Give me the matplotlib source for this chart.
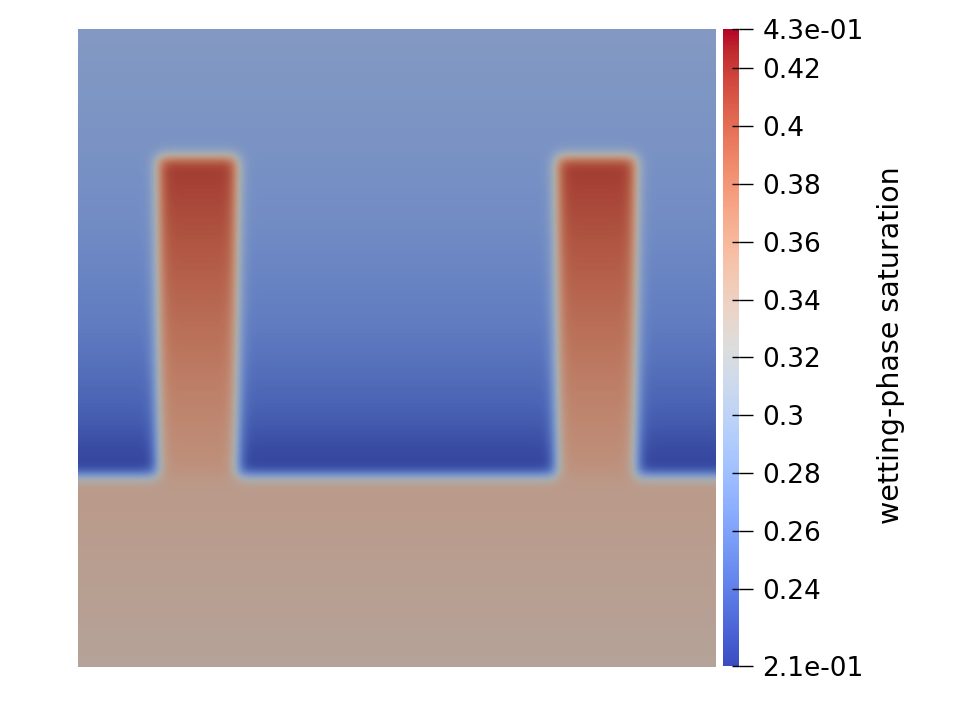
import numpy as np
import matplotlib
matplotlib.use('Agg')
import matplotlib.pyplot as plt
from matplotlib.colors import ListedColormap, Normalize
from matplotlib.cm import ScalarMappable

# Rango de la barra de colores
s_min = 0.2135
s_max = 0.4334

# Malla de celdas (40 x 40)
n_cols = 40
n_rows = 40

# Saturación por fila: zona superior (filas 0..27)
sat_background = [0.287, 0.286, 0.285, 0.284, 0.283, 0.282, 0.281, 0.280,
                  0.278, 0.277, 0.275, 0.274, 0.272, 0.270, 0.268, 0.266,
                  0.264, 0.262, 0.259, 0.256, 0.253, 0.249, 0.245, 0.241,
                  0.236, 0.230, 0.224, 0.218]

# Saturación en los dedos (filas 8..27)
finger_top_row = 8
sat_finger = [0.414, 0.411, 0.408, 0.405, 0.402, 0.399, 0.396, 0.393,
              0.390, 0.387, 0.384, 0.381, 0.378, 0.375, 0.372, 0.369,
              0.366, 0.363, 0.360, 0.357]

# Zona inferior (filas 28..39)
sat_bottom = [0.348, 0.347, 0.346, 0.345, 0.344, 0.343, 0.342, 0.341,
              0.340, 0.339, 0.338, 0.337]

# Columnas ocupadas por cada dedo
finger_cols = [(5, 10), (30, 35)]

tick_values = [s_min, 0.24, 0.26, 0.28, 0.3, 0.32, 0.34, 0.36, 0.38, 0.4, 0.42, s_max]
tick_labels = ["2.1e-01", "0.24", "0.26", "0.28", "0.3", "0.32", "0.34",
               "0.36", "0.38", "0.4", "0.42", "4.3e-01"]

# Construir el campo
field = np.zeros((n_rows, n_cols))
nb = len(sat_background)
field[:nb, :] = np.array(sat_background)[:, None]
field[nb:, :] = np.array(sat_bottom)[:, None]
for c0, c1 in finger_cols:
    field[finger_top_row:nb, c0:c1] = np.array(sat_finger)[:, None]

# Colormap con sombreado (como la vista 3D)
base = plt.get_cmap('coolwarm')(np.linspace(0, 1, 256))
shaded = base.copy()
shaded[:, :3] = base[:, :3] * 0.77
shaded_cmap = ListedColormap(shaded)
norm = Normalize(vmin=s_min, vmax=s_max)

plt.rcParams['font.family'] = ['DejaVu Sans']

fig = plt.figure(figsize=(9.78, 7.08), dpi=100)
ax = fig.add_axes([78 / 978, 41 / 708, 638 / 978, 638 / 708])
ax.imshow(field, cmap=shaded_cmap, norm=norm, interpolation='gaussian',
          interpolation_stage='data', aspect='auto')
ax.axis('off')

cax = fig.add_axes([723 / 978, 42 / 708, 16 / 978, 637 / 708])
sm = ScalarMappable(norm=norm, cmap='coolwarm')
cb = fig.colorbar(sm, cax=cax)
cb.outline.set_visible(False)
cb.set_ticks(tick_values)
cb.set_ticklabels(tick_labels)
cax.tick_params(axis='y', direction='out', length=10, width=1, pad=7,
                labelsize=19, colors='black')
cax.yaxis.set_minor_locator(matplotlib.ticker.FixedLocator(tick_values))
cax.yaxis.remove_overlapping_locs = False
cax.tick_params(axis='y', which='minor', direction='in', length=5, width=1, colors='black')

fig.text(891 / 978, 1 - 345 / 708, "wetting-phase saturation", rotation=90,
         ha='center', va='center', fontsize=20.5)

fig.savefig("out.png", dpi=100)
